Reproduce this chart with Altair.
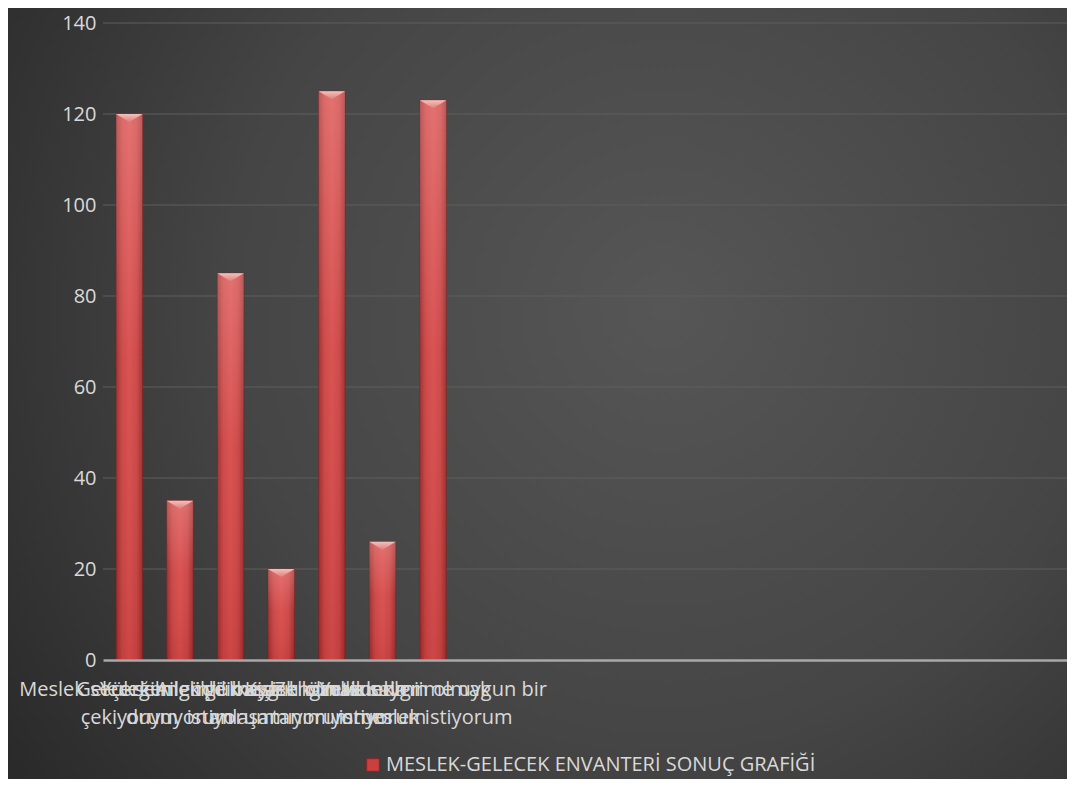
import altair as alt
import pandas as pd

# ---- data ----
label_line1 = [
    "Meslek seçerken güçlük",
    "Geleceğimle ilgili kaygı",
    "Yükselmek ve başarılı olmak",
    "Ailemle meslek konusunda",
    "Kişisel özelliklerimi",
    "Zengin ve saygın olmak",
    "Yeteneklerime uygun bir",
]
label_line2 = [
    "çekiyorum",
    "duyuyorum",
    "istiyorum",
    "anlaşamıyorum",
    "tanımıyorum",
    "istiyorum",
    "meslek istiyorum",
]
values = [120, 35, 85, 20, 125, 26, 123]
n_empty = 12  # empty category slots on the axis
series_name = "MESLEK-GELECEK ENVANTERİ SONUÇ GRAFİĞİ"
y_ticks = [0, 20, 40, 60, 80, 100, 120, 140]

cats = [f"{a}|{b}" for a, b in zip(label_line1, label_line2)] + [f"#{i}" for i in range(n_empty)]
vals = values + [None] * n_empty

df = pd.DataFrame({"cat": cats, "value": vals, "series": series_name})
grid_df = pd.DataFrame({"tick": y_ticks[1:]})

FONT = "Open Sans"
TXT = "#d9d9d9"
FS = 20
W, H = 964, 637
PAD_L, PAD_T, PAD_B = 95, 15, 119

bar_gradient = {
    "gradient": "linear",
    "x1": 0, "y1": 0, "x2": 1, "y2": 0,
    "stops": [
        {"offset": 0.0, "color": "#9c2c2c"},
        {"offset": 0.22, "color": "#c94444"},
        {"offset": 0.5, "color": "#d84c4c"},
        {"offset": 0.78, "color": "#c94444"},
        {"offset": 1.0, "color": "#9c2c2c"},
    ],
}
shine_gradient = {
    "gradient": "linear",
    "x1": 0, "y1": 0, "x2": 0, "y2": 1,
    "stops": [
        {"offset": 0.0, "color": "rgba(255,200,195,0.30)"},
        {"offset": 0.45, "color": "rgba(255,200,195,0.06)"},
        {"offset": 1.0, "color": "rgba(120,20,20,0.10)"},
    ],
}
bevel_gradient = {
    "gradient": "linear",
    "x1": 0, "y1": 0, "x2": 0, "y2": 1,
    "stops": [
        {"offset": 0.0, "color": "#f6c0bc"},
        {"offset": 1.0, "color": "#dc807b"},
    ],
}
bg_gradient = {
    "gradient": "radial",
    "x1": 0.62, "y1": 0.42, "r1": 0,
    "x2": 0.62, "y2": 0.42, "r2": 0.75,
    "stops": [
        {"offset": 0.0, "color": "#565656"},
        {"offset": 0.55, "color": "#454545"},
        {"offset": 1.0, "color": "#2a2a2a"},
    ],
}

xscale = alt.Scale(domain=cats, paddingInner=0.48, paddingOuter=0.26)
yscale = alt.Scale(domain=[0, 140], nice=False)

x_enc = alt.X(
    "cat:N",
    sort=cats,
    scale=xscale,
    axis=alt.Axis(
        title=None,
        labelAngle=0,
        labelExpr="indexof(datum.label, '#') == 0 ? '' : split(datum.label, '|')",
        labelFont=FONT,
        labelFontSize=FS,
        labelColor=TXT,
        labelLineHeight=28,
        labelPadding=19,
        labelOverlap=False,
        labelLimit=0,
        ticks=False,
        domain=True,
        domainColor="#a9a9a9",
        domainWidth=2.5,
        grid=False,
        zindex=1,
    ),
)
y_enc = alt.Y(
    "value:Q",
    scale=yscale,
    axis=alt.Axis(
        title=None,
        values=y_ticks,
        labelFont=FONT,
        labelFontSize=FS,
        labelColor=TXT,
        labelPadding=7,
        ticks=False,
        domain=False,
        grid=False,
        minExtent=90,
        maxExtent=90,
        zindex=1,
    ),
)

# full-chart background panel (decoration)
bg = alt.Chart(pd.DataFrame({"k": [0]})).mark_rect(fill=bg_gradient, stroke=None).encode(
    x=alt.value(-PAD_L),
    x2=alt.value(W),
    y=alt.value(-PAD_T),
    y2=alt.value(H + PAD_B),
)

grid = alt.Chart(grid_df).mark_rule(color="#5e5e5e", strokeWidth=1.2).encode(
    y=alt.Y("tick:Q", scale=yscale),
)

bars = alt.Chart(df).mark_bar(fill=bar_gradient, stroke="#7a2020", strokeWidth=0.6).encode(
    x=x_enc,
    y=y_enc,
)

shine = alt.Chart(df).mark_bar(fill=shine_gradient, strokeWidth=0).encode(
    x=alt.X("cat:N", sort=cats, scale=xscale),
    y=alt.Y("value:Q", scale=yscale),
)

bevel = alt.Chart(df).mark_point(
    shape="M -1 0 L 1 0 L 0 0.6 Z",
    size=700,
    filled=True,
    fill=bevel_gradient,
    opacity=1,
    strokeWidth=0,
).encode(
    x=alt.X("cat:N", sort=cats, scale=xscale),
    y=alt.Y("value:Q", scale=yscale),
)

# legend carrier (invisible marks, legend only)
legend_layer = alt.Chart(df.head(1)).mark_square(size=0, opacity=1).encode(
    x=alt.X("cat:N", sort=cats, scale=xscale),
    y=alt.Y("value:Q", scale=yscale),
    color=alt.Color(
        "series:N",
        scale=alt.Scale(range=["#c9403e"]),
        legend=alt.Legend(
            title=None,
            orient="none",
            legendX=260,
            legendY=732,
            symbolType="square",
            symbolSize=160,
            symbolStrokeColor="#8a2525",
            symbolStrokeWidth=1,
            symbolOpacity=1,
            labelFont=FONT,
            labelFontSize=FS,
            labelColor=TXT,
            labelLimit=0,
            labelOffset=3,
            zindex=3,
        ),
    ),
)

chart = (
    alt.layer(bg, grid, bars, shine, bevel, legend_layer)
    .properties(
        width=W,
        height=H,
        autosize=alt.AutoSizeParams(type="none"),
        padding={"left": PAD_L, "top": PAD_T, "right": 0, "bottom": PAD_B},
        background="#333333",
    )
    .configure_view(stroke=None)
)

chart.save("out.html", embed_options={"renderer": "svg", "actions": False})
